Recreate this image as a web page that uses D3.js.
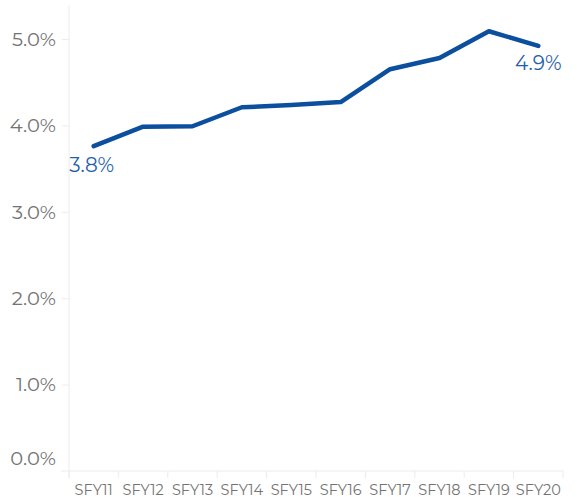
<!DOCTYPE html>
<html>
<head>
<meta charset="utf-8">
<script src="https://cdn.jsdelivr.net/npm/d3@7"></script>
<style>
  body { margin: 0; background: #fff; }
  svg text { font-family: "Montserrat", "Lato", "Open Sans", sans-serif; }
  .axis path, .axis line { stroke: #ececec; }
</style>
</head>
<body>
<svg width="577" height="497"></svg>
<script>
var years = ["SFY11", "SFY12", "SFY13", "SFY14", "SFY15", "SFY16", "SFY17", "SFY18", "SFY19", "SFY20"];
var rates = [3.76, 3.985, 3.99, 4.21, 4.235, 4.27, 4.65, 4.78, 5.09, 4.92];
var yTicks = [0, 1, 2, 3, 4, 5];

var svg = d3.select("svg"),
    plotLeft = 69, plotRight = 563, plotTop = 471 - 5.5 * 86.4, plotBottom = 471;

var x = d3.scaleBand().domain(years).range([plotLeft, plotRight]);
var y = d3.scaleLinear().domain([0, 5.5]).range([plotBottom, plotTop]);

// y axis
var yAxis = svg.append("g")
    .attr("class", "axis")
    .attr("transform", "translate(" + plotLeft + ",0)")
    .call(d3.axisLeft(y).tickValues(yTicks).tickSize(7).tickPadding(6)
        .tickFormat(function(d) { return d.toFixed(1) + "%"; }));
yAxis.select(".domain").remove();
yAxis.append("line").attr("y1", 5).attr("y2", plotBottom + 7).attr("stroke", "#ececec");
yAxis.selectAll("text").attr("fill", "#737373").style("font-size", "19.5px");
// the 0.0% label sits a bit above the baseline
yAxis.selectAll(".tick").filter(function(d) { return d === 0; })
    .select("text").attr("dy", "-0.35em");
yAxis.selectAll(".tick").filter(function(d) { return d === 0; })
    .select("line").remove();

// x axis
var xAxis = svg.append("g")
    .attr("class", "axis")
    .attr("transform", "translate(0," + plotBottom + ")");
xAxis.append("line").attr("x1", plotLeft - 8).attr("x2", plotRight).attr("stroke", "#ececec");
xAxis.selectAll(".tk").data(years.concat(["end"])).enter().append("line")
    .attr("x1", function(d, i) { return plotLeft + i * x.bandwidth(); })
    .attr("x2", function(d, i) { return plotLeft + i * x.bandwidth(); })
    .attr("y1", 0).attr("y2", 7).attr("stroke", "#ececec");
xAxis.selectAll(".lbl").data(years).enter().append("text")
    .attr("x", function(d) { return x(d) + x.bandwidth() / 2; })
    .attr("y", 24)
    .attr("text-anchor", "middle")
    .attr("fill", "#737373")
    .style("font-size", "14.5px")
    .text(function(d) { return d; });

// line
var line = d3.line()
    .x(function(d, i) { return x(years[i]) + x.bandwidth() / 2; })
    .y(function(d) { return y(d); });

svg.append("path")
    .attr("d", line(rates))
    .attr("fill", "none")
    .attr("stroke", "#0b4f9e")
    .attr("stroke-width", 4.5)
    .attr("stroke-linecap", "round")
    .attr("stroke-linejoin", "round");

// end labels
var last = rates.length - 1;
svg.append("text")
    .attr("x", x(years[0]) + x.bandwidth() / 2 - 2)
    .attr("y", y(rates[0]) + 26)
    .attr("text-anchor", "middle")
    .attr("fill", "#2360ab")
    .style("font-size", "20px")
    .text(rates[0].toFixed(1) + "%");
svg.append("text")
    .attr("x", x(years[last]) + x.bandwidth() / 2)
    .attr("y", y(rates[last]) + 24)
    .attr("text-anchor", "middle")
    .attr("fill", "#2360ab")
    .style("font-size", "20px")
    .text(rates[last].toFixed(1) + "%");
</script>
</body>
</html>
